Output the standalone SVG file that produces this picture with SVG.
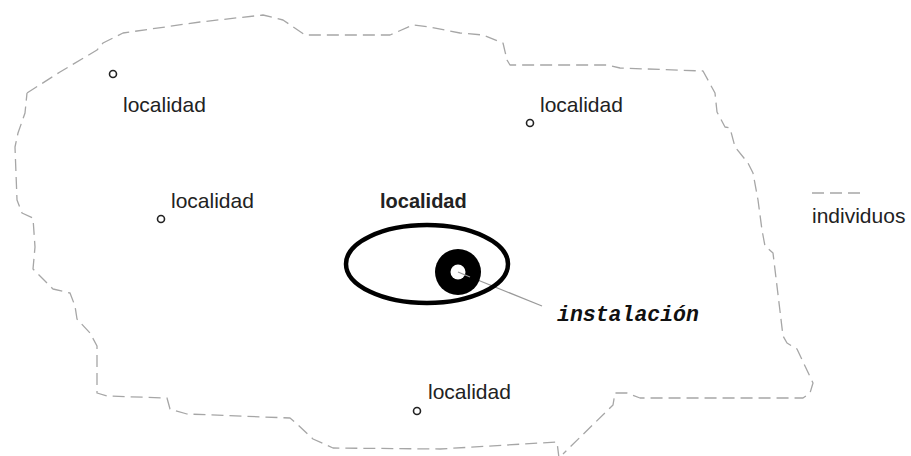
<svg xmlns="http://www.w3.org/2000/svg" width="911" height="456" viewBox="0 0 911 456">
<style>
.bnd{fill:none;stroke:#a6a6a6;stroke-width:1.3;stroke-dasharray:12 6;stroke-linejoin:round}
.lbl{font-family:"Liberation Sans",Arial,sans-serif;font-size:21px;fill:#222}
.bold{font-weight:bold;font-size:20px}
.mono{font-family:"Liberation Mono","Courier New",monospace;font-size:21.5px;font-weight:bold;font-style:italic;fill:#111}
.dot{fill:#fff;stroke:#222;stroke-width:1.6}
</style>
<rect width="911" height="456" fill="#fff"/>
<g id="region">
<path class="bnd" d="M27,93 L60,72 L97,50 L103,43 L123,33 L200,22 L263,15 L283,20 L305,35 L390,35 L413,25 L430,27 L460,33 L483,35 L503,43 L507,60 L510,65 L607,65 L620,68 L703,71 L715,93 L717,112 L725,127 L730,128 L735,147 L748,163 L753,173 L758,200 L762,230 L765,246 L773,253 L783,336 L787,343 L797,349 L813,383 L810,393 L803,398 L640,398 L627,393 L615,393 L613,405 L563,454 M559,458 L557,442 L440,449 L333,448 L313,439 L297,424 L290,418 L187,414 L170,409 L167,398 L107,396 L97,393 L97,346 L90,333 L77,319 L75,306 L70,293 L53,289 L43,279 L33,269 L35,247 L33,218 L22,213 L17,200 L15,147 L18,133 L25,113 L27,93"/>
</g>
<g id="legend">
<line class="bnd" x1="812" y1="193" x2="862" y2="193"/>
<text class="lbl" x="812" y="223">individuos</text>
</g>
<g id="loc1">
<circle class="dot" cx="113" cy="74" r="3.5"/>
<text class="lbl" x="123" y="112">localidad</text>
</g>
<g id="loc2">
<circle class="dot" cx="161" cy="219" r="3.5"/>
<text class="lbl" x="171" y="208">localidad</text>
</g>
<g id="loc3">
<circle class="dot" cx="530" cy="123" r="3.5"/>
<text class="lbl" x="540" y="112">localidad</text>
</g>
<g id="loc4">
<circle class="dot" cx="417" cy="411" r="3.5"/>
<text class="lbl" x="428" y="399">localidad</text>
</g>
<g id="connectors">
<line x1="458" y1="272" x2="542" y2="306" stroke="#9a9a9a" stroke-width="1.2"/>
</g>
<g id="main-loc">
<text class="lbl bold" x="380" y="208">localidad</text>
<ellipse cx="427" cy="264" rx="81" ry="39" fill="none" stroke="#000" stroke-width="4.5"/>
</g>
<g id="installation">
<circle cx="458" cy="272" r="23" fill="#000"/>
<circle cx="458" cy="272" r="7.5" fill="#fff"/>
<line x1="458" y1="272" x2="470" y2="277" stroke="#9a9a9a" stroke-width="1.2"/>
<text class="mono" x="557" y="321">instalación</text>
</g>
</svg>
